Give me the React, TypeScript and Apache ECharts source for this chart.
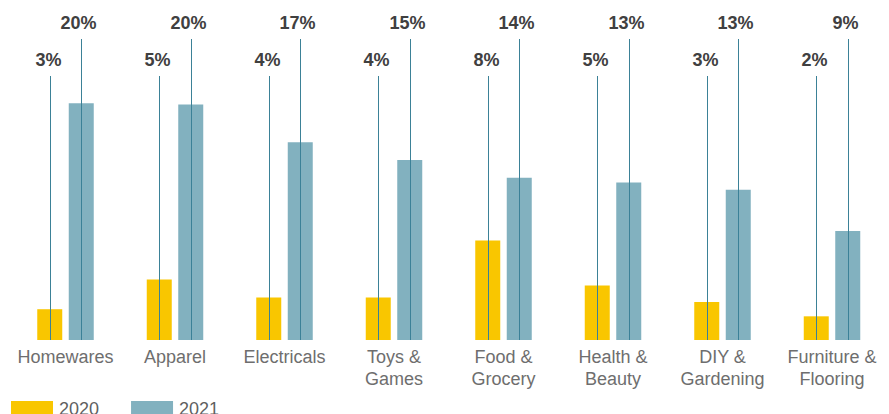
import React, { useEffect, useRef } from "react";
import * as echarts from "echarts";

const categories = [
  "Homewares",
  "Apparel",
  "Electricals",
  "Toys &\nGames",
  "Food &\nGrocery",
  "Health &\nBeauty",
  "DIY &\nGardening",
  "Furniture &\nFlooring",
];
const series2020 = [2.6, 5.1, 3.6, 3.6, 8.4, 4.6, 3.2, 2.0];
const series2021 = [20.0, 19.9, 16.7, 15.2, 13.7, 13.3, 12.7, 9.2];
const seriesNames = ["2020", "2021"];

const YELLOW = "#F9C600";
const BLUE = "#82B1BF";
const LINE = "#3b8197";
const FONT = "'Liberation Sans', Arial, sans-serif";

export default function App() {
  const ref = useRef<HTMLDivElement>(null);
  useEffect(() => {
    if (!ref.current) return;
    const chart = echarts.init(ref.current, null, { renderer: "svg" });
    const barWidth = 25;
    const gap = 6.5;
    const offset = (barWidth + gap) / 2;
    chart.setOption({
      animation: false,
      grid: { left: 10.75, right: 2.25, top: 44, bottom: 74 },
      legend: {
        data: seriesNames,
        left: 11,
        top: 400,
        padding: 0,
        itemWidth: 42,
        itemHeight: 16,
        itemGap: 32,
        icon: "rect",
        textStyle: { fontFamily: FONT, fontSize: 18, color: "#5f5f5f", padding: [0, 0, 0, 1] },
      },
      xAxis: {
        type: "category",
        data: categories,
        axisLine: { show: false },
        axisTick: { show: false },
        axisLabel: {
          interval: 0,
          margin: 6,
          fontFamily: FONT,
          fontSize: 18,
          lineHeight: 22,
          color: "#6e6e6e",
        },
      },
      yAxis: {
        type: "value",
        min: 0,
        max: 25,
        show: false,
        splitLine: { show: false },
      },
      series: [
        {
          name: seriesNames[0],
          type: "bar",
          data: series2020,
          barWidth,
          barGap: (gap / barWidth) * 100 + "%",
          itemStyle: { color: YELLOW },
        },
        {
          name: seriesNames[1],
          type: "bar",
          data: series2021,
          barWidth,
          itemStyle: { color: BLUE },
        },
        {
          type: "custom",
          z: 10,
          clip: false,
          silent: true,
          data: categories.map((_, i) => [i, series2020[i], series2021[i]]),
          encode: { x: 0, y: 1 },
          renderItem: (params: any, api: any) => {
            const i = api.value(0);
            const base = api.coord([i, 0]);
            const cx = base[0];
            const by = base[1];
            const x1 = Math.round(cx - offset) + 0.5;
            const x2 = Math.round(cx + offset) + 0.5;
            const top1 = by - 264;
            const top2 = by - 301;
            const v1 = api.value(1);
            const v2 = api.value(2);
            const textStyle = (t: string, x: number, y: number) => ({
              type: "text",
              style: {
                text: t,
                x,
                y,
                align: "center",
                verticalAlign: "middle",
                fontFamily: FONT,
                fontWeight: "bold",
                fontSize: 18,
                fill: "#404040",
              },
            });
            return {
              type: "group",
              children: [
                { type: "line", shape: { x1, y1: by, x2: x1, y2: top1 }, style: { stroke: LINE, lineWidth: 1 } },
                { type: "line", shape: { x1: x2, y1: by, x2, y2: top2 }, style: { stroke: LINE, lineWidth: 1 } },
                textStyle(Math.round(v1) + "%", x1 - 2, top1 - 16),
                textStyle(Math.round(v2) + "%", x2 - 3, top2 - 16),
              ],
            };
          },
        },
      ],
    });
    return () => chart.dispose();
  }, []);
  return (
    <div
      ref={ref}
      style={{ position: "fixed", left: 0, top: 0, width: 889, height: 414, background: "#fff" }}
    />
  );
}
